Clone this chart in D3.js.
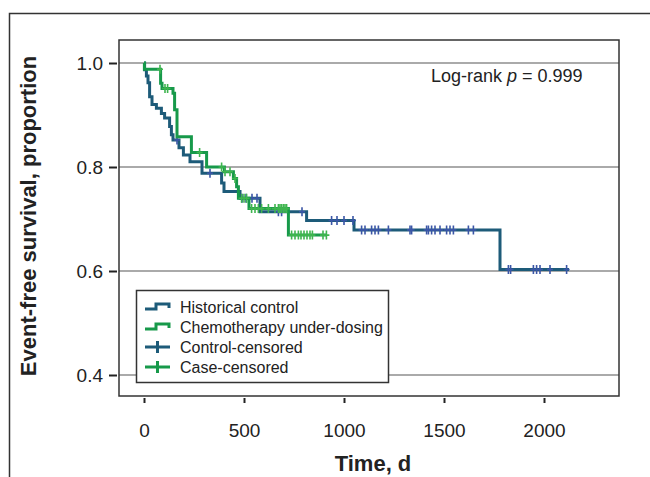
<html>
<head>
	<title>Event-free survival</title>
	<script src="https://d3js.org/d3.v7.min.js" charset="utf-8"></script>
    <style type="text/css">
        body { margin: 0; background: #fff; }
        text { font-family: "Liberation Sans", Arial, Helvetica, sans-serif; fill: #222; }
    </style>
</head>
<body>
	<div id="chart"></div>
	<script>
		// Kaplan-Meier steps: [day, survival after the drop]
		var controlSteps = [[3,0.987],[12,0.975],[20,0.962],[28,0.935],[40,0.92],[62,0.913],[87,0.903],
			[103,0.894],[128,0.878],[137,0.862],[145,0.852],[175,0.837],[197,0.823],[230,0.81],[290,0.788],
			[388,0.769],[400,0.753],[480,0.74],[580,0.714],[813,0.697],[1050,0.679],[1780,0.603]];
		var controlEnd = 2125;
		var controlCensored = [165,330,490,510,540,565,672,688,790,938,965,1000,1045,1088,1105,1138,1155,
			1172,1222,1330,1338,1413,1422,1438,1455,1480,1513,1530,1547,1622,1647,1822,1833,1947,1963,1980,2030,2113];

		var caseSteps = [[2,0.988],[83,0.961],[90,0.951],[145,0.942],[153,0.91],[165,0.858],[237,0.828],
			[313,0.80],[402,0.791],[447,0.778],[463,0.762],[472,0.74],[525,0.72],[722,0.669]];
		var caseEnd = 915;
		var caseCensored = [80,105,118,278,388,405,430,455,488,500,513,538,555,572,588,622,655,672,680,688,
			697,705,713,738,755,772,785,800,815,830,842,895,912];

		var xTicks = [0, 500, 1000, 1500, 2000];
		var yTicks = [0.4, 0.6, 0.8, 1.0];
		var legendLabels = ["Historical control", "Chemotherapy under-dosing", "Control-censored", "Case-censored"];

		var W = 650, H = 477;
		var plot = {left: 119, right: 619, top: 40, bottom: 396};

		var blueLine = '#1d5b79', blueMark = '#3a56a6';
		var greenLine = '#17994a', greenMark = '#3fb54f';

		var xScale = d3.scaleLinear().domain([-125, 2375]).range([plot.left, plot.right]);
		// 1.0 sits at y=63, 0.4 at y=375
		var yScale = d3.scaleLinear()
			.domain([0.4 - (plot.bottom - 375) / 520, 1 + (63 - plot.top) / 520])
			.range([plot.bottom, plot.top]);

		var svg = d3.select('#chart').append('svg')
			.attr('width', W).attr('height', H);

		// outer frame
		svg.append('rect')
			.attr('x', 9.5).attr('y', 13.5).attr('width', 700).attr('height', 500)
			.style('fill', 'none').style('stroke', '#333').style('stroke-width', 1.5);

		// gridlines
		svg.append('g').selectAll('line').data(yTicks).enter().append('line')
			.attr('x1', plot.left).attr('x2', plot.right)
			.attr('y1', function(d){ return yScale(d); })
			.attr('y2', function(d){ return yScale(d); })
			.style('stroke', '#aaa').style('stroke-width', 2);

		function survivalAt(steps, t) {
			var s = 1;
			steps.forEach(function(p){ if (p[0] <= t) s = p[1]; });
			return s;
		}

		function kmPath(steps, end) {
			var p = 'M' + xScale(0) + ',' + yScale(1);
			steps.forEach(function(d){
				p += 'H' + xScale(d[0]) + 'V' + yScale(d[1]);
			});
			return p + 'H' + xScale(end);
		}

		function drawCurve(steps, end, censored, lineCol, markCol) {
			svg.append('path')
				.attr('d', kmPath(steps, end))
				.style('fill', 'none').style('stroke', lineCol).style('stroke-width', 3)
				.style('stroke-linejoin', 'miter');
			var g = svg.append('g');
			censored.forEach(function(t){
				var cx = xScale(t), cy = yScale(survivalAt(steps, t));
				g.append('path')
					.attr('d', 'M' + (cx - 3) + ',' + cy + 'H' + (cx + 3) + 'M' + cx + ',' + (cy - 4.5) + 'V' + (cy + 4.5))
					.style('stroke', markCol).style('stroke-width', 1.6).style('fill', 'none');
			});
		}

		drawCurve(controlSteps, controlEnd, controlCensored, blueLine, blueMark);
		drawCurve(caseSteps, caseEnd, caseCensored, greenLine, greenMark);

		// plot frame
		svg.append('rect')
			.attr('x', plot.left).attr('y', plot.top)
			.attr('width', plot.right - plot.left).attr('height', plot.bottom - plot.top)
			.style('fill', 'none').style('stroke', '#333').style('stroke-width', 1.5);

		// y axis
		var yAxis = d3.axisLeft(yScale).tickValues(yTicks).tickFormat(d3.format('.1f'))
			.tickSize(8).tickPadding(6);
		var yGuide = svg.append('g').attr('transform', 'translate(' + (plot.left - 2) + ',0)').call(yAxis);
		yGuide.select('.domain').remove();
		yGuide.selectAll('line').style('stroke', '#222').style('stroke-width', 2);
		yGuide.selectAll('text').style('font-size', '19px').style('font-family', null).attr('dy', '0.35em');

		// x axis
		var xAxis = d3.axisBottom(xScale).tickValues(xTicks).tickFormat(d3.format('d'))
			.tickSize(5).tickPadding(21);
		var xGuide = svg.append('g').attr('transform', 'translate(0,' + (plot.bottom + 2) + ')').call(xAxis);
		xGuide.select('.domain').remove();
		xGuide.selectAll('line').style('stroke', '#222').style('stroke-width', 2);
		xGuide.selectAll('text').style('font-size', '19px').style('font-family', null);

		// axis titles
		svg.append('text')
			.attr('x', 373).attr('y', 471).attr('text-anchor', 'middle')
			.style('font-size', '22px').style('font-weight', 'bold')
			.text('Time, d');
		svg.append('text')
			.attr('transform', 'translate(36,216) rotate(-90)').attr('text-anchor', 'middle')
			.style('font-size', '22px').style('font-weight', 'bold')
			.text('Event-free survival, proportion');

		// log-rank annotation
		var lr = svg.append('text').attr('x', 431).attr('y', 82).style('font-size', '18px');
		lr.append('tspan').text('Log-rank ');
		lr.append('tspan').style('font-style', 'italic').text('p');
		lr.append('tspan').text(' = 0.999');

		// legend
		var leg = svg.append('g');
		leg.append('rect')
			.attr('x', 136.5).attr('y', 290.5).attr('width', 252).attr('height', 92)
			.style('fill', '#fff').style('stroke', '#333').style('stroke-width', 1.5);
		var legColors = [blueLine, greenLine, blueLine, greenLine];
		legendLabels.forEach(function(label, i){
			var cy = 307 + i * 20;
			var icon = i < 2
				? 'M145,' + (cy + 2) + 'H156V' + (cy - 3) + 'H169V' + (cy + 1)
				: 'M145,' + cy + 'H170M157.5,' + (cy - 6) + 'V' + (cy + 6);
			leg.append('path').attr('d', icon)
				.style('fill', 'none').style('stroke', legColors[i]).style('stroke-width', 3);
			leg.append('text').attr('x', 180).attr('y', cy + 6)
				.style('font-size', '16px').text(label);
		});
	</script>
</body>
</html>
